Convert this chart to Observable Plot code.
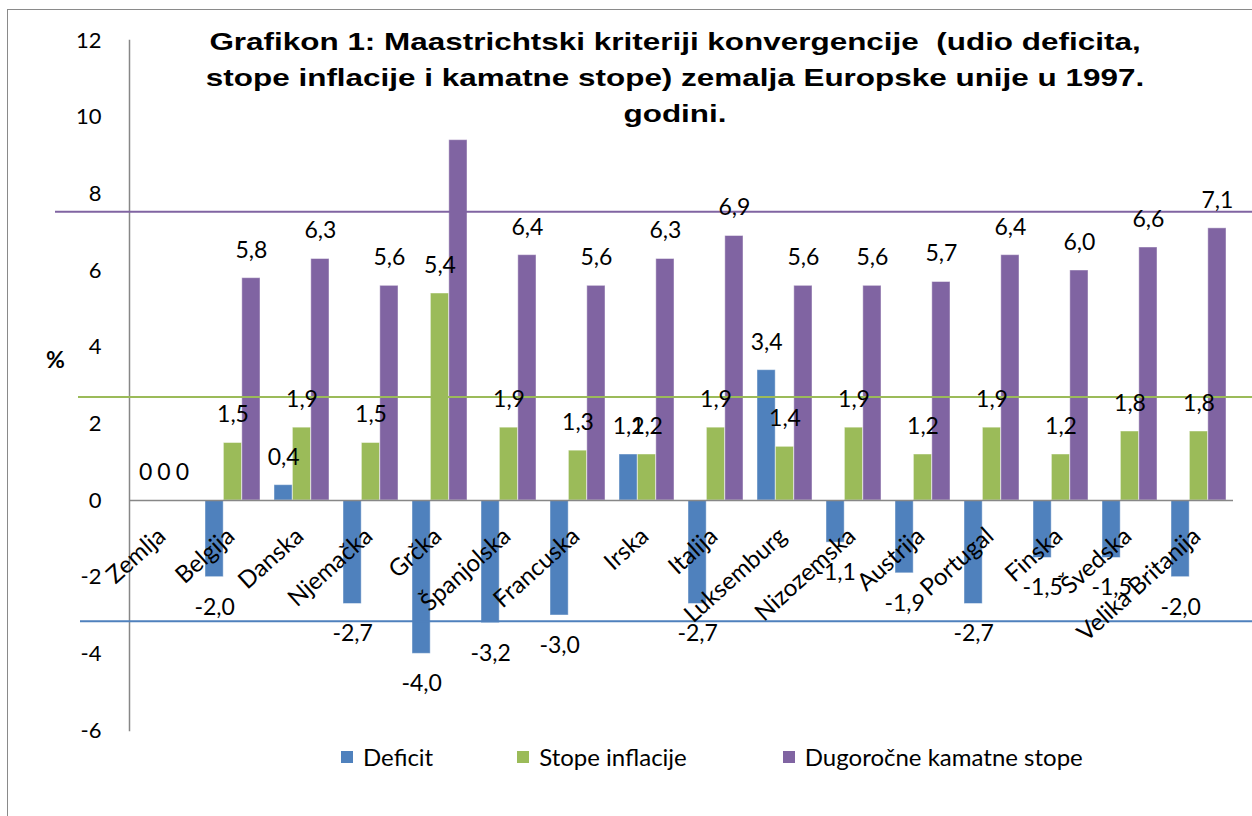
<!DOCTYPE html>
<html>
<head>
<meta charset="utf-8">
<script src="https://cdn.jsdelivr.net/npm/d3@7"></script>
<script src="https://cdn.jsdelivr.net/npm/@observablehq/plot@0.6"></script>
<style>
  html, body { margin: 0; padding: 0; background: #fff; overflow: hidden; }
  #wrap { position: relative; width: 1252px; height: 816px; overflow: hidden; background: #fff; }
  #frame { position: absolute; left: 7px; top: 9px; width: 1400px; height: 1000px; border: 1.5px solid #8a8a8a; box-sizing: border-box; pointer-events: none; }
  #chart { position: absolute; left: 0; top: 0; }
  #titlebox { position: absolute; left: 200px; top: 24px; width: 950px; height: 106px; background: #fff; }
  #title { position: absolute; left: 0; top: 0; width: 950px; text-align: center; font-family: "Liberation Sans", Arial, sans-serif; font-weight: bold; font-size: 24px; line-height: 36px; color: #000; transform: scaleX(1.31); transform-origin: 50% 0; white-space: nowrap; }
  #ylabel { position: absolute; left: 46px; top: 345px; font-family: Lato, sans-serif; font-weight: bold; font-size: 23px; color: #000; }
  #legend { position: absolute; left: 341px; top: 742px; display: flex; font-family: Lato, sans-serif; font-size: 24px; color: #000; white-space: nowrap; }
  .item { display: flex; align-items: center; gap: 10px; }
  .sw { width: 12px; height: 12px; display: inline-block; }
</style>
</head>
<body>
<div id="wrap">
  <div id="chart"></div>
  <div id="frame"></div>
  <div id="titlebox"><div id="title"></div></div>
  <div id="ylabel">%</div>
  <div id="legend"></div>
</div>
<script>
const categories = ["Zemlja","Belgija","Danska","Njemačka","Grčka","Španjolska","Francuska","Irska","Italija","Luksemburg","Nizozemska","Austrija","Portugal","Finska","Švedska","Velika Britanija"];
const deficit   = [0, -2.0, 0.4, -2.7, -4.0, -3.2, -3.0, 1.2, -2.7, 3.4, -1.1, -1.9, -2.7, -1.5, -1.5, -2.0];
const inflation = [0,  1.5, 1.9,  1.5,  5.4,  1.9,  1.3, 1.2,  1.9, 1.4,  1.9,  1.2,  1.9,  1.2,  1.8,  1.8];
const interest  = [0,  5.8, 6.3,  5.6,  9.4,  6.4,  5.6, 6.3,  6.9, 5.6,  5.6,  5.7,  6.4,  6.0,  6.6,  7.1];
const seriesNames  = ["Deficit", "Stope inflacije", "Dugoročne kamatne stope"];
const seriesColors = ["#4F81BD", "#9BBB59", "#8064A2"];
const criteriaValues = [-3.15, 2.7, 7.53];   // deficit, inflation, interest reference lines
const yTicks = [-6, -4, -2, 0, 2, 4, 6, 8, 10, 12];
const titleLines = [
  "Grafikon 1: Maastrichtski kriteriji konvergencije  (udio deficita,",
  "stope inflacije i kamatne stope) zemalja Europske unije u 1997.",
  "godini."
];

document.getElementById("title").innerHTML = titleLines.map(t => t.replace(/  /g, "&nbsp; ")).join("<br>");

const seriesArrays = [deficit, inflation, interest];
const rows = categories.flatMap((c, i) => seriesArrays.map((arr, s) => ({country: c, series: seriesNames[s], s, value: arr[i]})));

const W = 1252, H = 816;
const mL = 129, mR = 19, mT = 40, mB = 86;
const step = (W - mL - mR) / categories.length;
const band = step * 0.8;
const bw = band / 3;

const fmt = v => v === 0 ? "0" : v.toFixed(1).replace(".", ",");
const font = "Lato, sans-serif";

const marks = [];
// bars
seriesNames.forEach((name, s) => {
  marks.push(Plot.barY(rows.filter(r => r.s === s), {
    x: "country", y: "value", fill: "series",
    stroke: "#ffffff", strokeOpacity: 0.45, strokeWidth: 1,
    insetLeft: bw, insetRight: bw, dx: (s - 1) * bw
  }));
});
// axes lines
marks.push(Plot.ruleY([0], {stroke: "#878787", strokeWidth: 1.5}));
marks.push(Plot.frame({anchor: "left", stroke: "#878787", strokeWidth: 1.5}));
// criteria lines (drawn across the chart)
const ext = [-49, -51, -74];
criteriaValues.forEach((v, s) => {
  marks.push(Plot.ruleY([v], {stroke: seriesColors[s], strokeWidth: 2, insetLeft: ext[s], insetRight: -mR}));
});
// value labels
seriesNames.forEach((name, s) => {
  const data = rows.filter(r => r.s === s);
  marks.push(Plot.text(data.filter(r => r.value >= 0), {
    x: "country", y: "value", text: d => fmt(d.value), dx: (s - 1) * bw, dy: -28,
    fontSize: 23, fill: "#000"
  }));
  marks.push(Plot.text(data.filter(r => r.value < 0), {
    x: "country", y: "value", text: d => fmt(d.value), dx: (s - 1) * bw, dy: 30,
    fontSize: 23, fill: "#000"
  }));
});
// category labels
marks.push(Plot.text(categories, {
  x: d => d, y: 0, text: d => d, rotate: -42, textAnchor: "end", lineAnchor: "middle",
  dx: -2, dy: 32, fontSize: 24, fill: "#000"
}));
// y axis
marks.push(Plot.axisY({ticks: yTicks, tickSize: 0, tickPadding: 28, fontSize: 22, label: null, tickFormat: d => String(d).replace("−", "-")}));

const chart = Plot.plot({
  width: W, height: H,
  marginLeft: mL, marginRight: mR, marginTop: mT, marginBottom: mB,
  style: {fontFamily: font, fontSize: "22px", color: "#000", background: "transparent"},
  x: {domain: categories, paddingInner: 0.2, paddingOuter: 0.1, axis: null},
  y: {domain: [-6, 12], axis: null},
  color: {domain: seriesNames, range: seriesColors},
  marks
});
document.getElementById("chart").appendChild(chart);

const lg = document.getElementById("legend");
const itemGaps = [0, 84, 96];
seriesNames.forEach((n, i) => {
  const it = document.createElement("div");
  it.className = "item";
  it.style.marginLeft = itemGaps[i] + "px";
  it.innerHTML = `<span class="sw" style="background:${seriesColors[i]}"></span><span>${n}</span>`;
  lg.appendChild(it);
});
</script>
</body>
</html>
